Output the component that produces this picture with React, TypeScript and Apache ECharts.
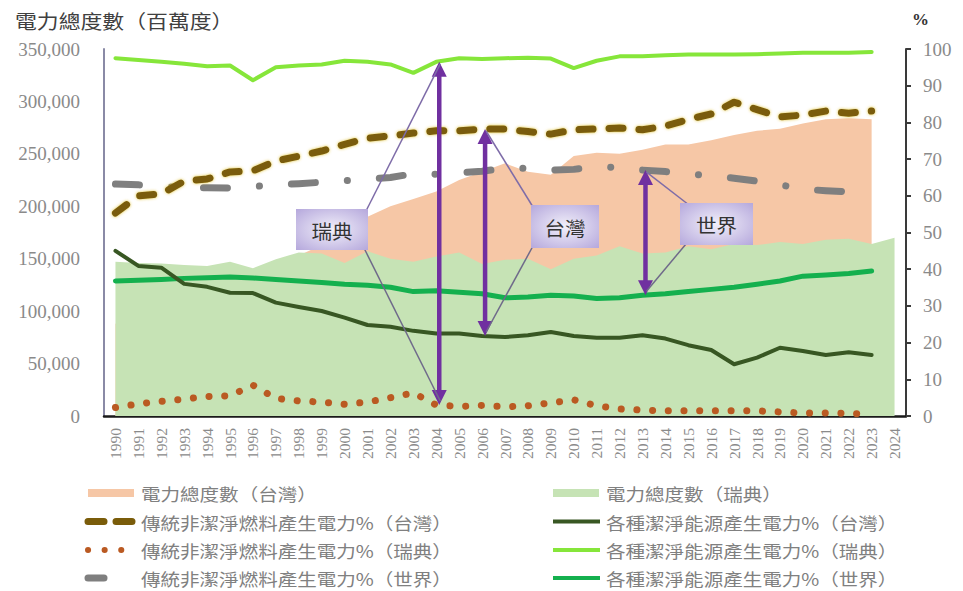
import React, { useEffect, useRef } from 'react';
import * as echarts from 'echarts';

// Years on the category axis
const years = [
  '1990', '1991', '1992', '1993', '1994', '1995', '1996', '1997', '1998', '1999',
  '2000', '2001', '2002', '2003', '2004', '2005', '2006', '2007', '2008', '2009',
  '2010', '2011', '2012', '2013', '2014', '2015', '2016', '2017', '2018', '2019',
  '2020', '2021', '2022', '2023', '2024',
];

// Total electricity (百萬度), left axis
const twTotal = [
  88000, 95000, 101000, 110000, 118000, 125000, 133000, 144000, 153000, 163000,
  178000, 190000, 200000, 207000, 214000, 225000, 233000, 241000, 233000, 230000,
  248000, 251000, 250000, 254000, 259000, 259000, 263000, 268000, 272000, 274000,
  279000, 283000, 284000, 283000,
];
const seTotal = [
  147000, 146000, 145500, 144000, 143000, 147000, 141000, 149500, 156000, 155000,
  146000, 157000, 150000, 147000, 152000, 156000, 145000, 149000, 150000, 140000,
  150000, 153000, 162000, 155000, 156000, 162000, 159000, 164000, 163000, 166000,
  164000, 168000, 169000, 164000, 170000,
];

// Share of generation (%), right axis
const twFossil = [
  55.3, 60.0, 60.5, 64.0, 64.6, 66.5, 66.8, 69.5, 70.8, 72.2,
  74.0, 75.7, 76.3, 77.1, 77.7, 77.7, 78.2, 78.2, 77.5, 76.8,
  78.0, 78.2, 78.5, 78.0, 79.0, 80.8, 82.3, 85.5, 83.5, 81.5,
  82.0, 83.1, 82.5, 83.1,
];
const twClean = [
  45.0, 40.9, 40.4, 36.0, 35.2, 33.6, 33.5, 30.9, 29.7, 28.6,
  26.8, 24.8, 24.3, 23.2, 22.5, 22.5, 21.8, 21.5, 22.0, 22.9,
  21.8, 21.3, 21.3, 22.0, 21.1, 19.3, 18.0, 14.1, 15.9, 18.6,
  17.7, 16.6, 17.4, 16.6,
];
const seFossil = [
  2.3, 3.3, 4.0, 4.6, 5.3, 5.5, 8.4, 4.8, 4.1, 3.8,
  3.2, 3.8, 5.0, 6.3, 3.0, 2.6, 2.9, 2.5, 2.8, 3.6,
  4.4, 2.8, 1.9, 1.6, 1.4, 1.4, 1.4, 1.4, 1.4, 1.1,
  0.8, 0.8, 0.7, 0.5,
];
const seClean = [
  97.5, 97.0, 96.5, 96.0, 95.3, 95.5, 91.5, 95.0, 95.5, 95.8,
  96.8, 96.5, 95.8, 93.5, 96.5, 97.5, 97.3, 97.5, 97.6, 97.4,
  94.8, 96.8, 98.0, 98.0, 98.3, 98.5, 98.5, 98.5, 98.6, 98.8,
  99.0, 99.0, 99.0, 99.2,
];
const worldFossil = [
  63.2, 63.0, 62.5, 62.2, 62.2, 62.1, 62.5, 63.0, 63.3, 63.7,
  64.1, 64.5, 65.0, 66.0, 65.9, 66.3, 66.7, 67.5, 67.5, 67.0,
  67.2, 67.9, 67.7, 67.0, 66.6, 66.0, 65.4, 64.8, 64.0, 63.0,
  61.8, 61.4, 61.1, 60.4,
];
const worldClean = [
  36.8, 37.0, 37.2, 37.5, 37.7, 37.9, 37.6, 37.2, 36.8, 36.4,
  35.9, 35.6, 35.1, 33.9, 34.1, 33.7, 33.3, 32.2, 32.4, 32.9,
  32.7, 32.0, 32.2, 32.9, 33.3, 33.9, 34.5, 35.1, 35.9, 36.8,
  38.1, 38.4, 38.8, 39.5,
];

// Years marked with a double arrow between fossil and clean shares
const arrowYears = ['2004', '2006', '2013'];
const calloutLabels = ['瑞典', '台灣', '世界'];

const SERIF = '"Liberation Serif", "DejaVu Serif", "Times New Roman", serif';
const CJK = '"Noto Sans CJK TC", "Noto Sans CJK SC", sans-serif';

const C_TW_AREA = '#F6C7A6';
const C_SE_AREA = '#C6E3B5';
const C_TW_FOSSIL = '#7A5C0A';
const C_TW_CLEAN = '#385723';
const C_SE_FOSSIL = '#BA5A22';
const C_SE_CLEAN = '#86E63A';
const C_W_FOSSIL = '#7F7F7F';
const C_W_CLEAN = '#14B04E';
const PURPLE = '#7030A0';

const DASH_TW: number[] = [14, 16];
const DOT_SE: number[] = [0.1, 15.6];
const DASHDOT_W: number[] = [24, 32, 0.1, 32];

// horizontal stretch applied to the CJK captions
const WIDE = 1.15;

function lineSeries(name: string, data: number[], color: string, width: number, type: any, z: number, extra: any = {}) {
  return {
    name,
    type: 'line',
    yAxisIndex: 1,
    data,
    symbol: 'none',
    z,
    lineStyle: { color, width, type, cap: 'round', join: 'round', ...extra },
    itemStyle: { color },
  };
}

export default function App() {
  const ref = useRef<HTMLDivElement>(null);

  useEffect(() => {
    document.body.style.margin = '0';
    const chart = echarts.init(ref.current as HTMLDivElement, null, { renderer: 'svg' });

    const option: any = {
      animation: false,
      grid: { left: 104, right: 57, top: 49, bottom: 175, containLabel: false },
      xAxis: {
        type: 'category',
        data: years,
        boundaryGap: true,
        axisLine: { lineStyle: { color: '#1a1a1a', width: 2.5 } },
        axisTick: { show: false },
        axisLabel: {
          rotate: 90,
          interval: 0,
          margin: 12,
          fontFamily: SERIF,
          fontSize: 15.5,
          color: '#8a8a8a',
        },
      },
      yAxis: [
        {
          type: 'value',
          min: 0,
          max: 350000,
          interval: 50000,
          axisLine: { show: true, lineStyle: { color: '#8a8aa6', width: 2 } },
          axisTick: { show: false },
          splitLine: { show: false },
          axisLabel: {
            formatter: (v: number) => v.toLocaleString('en-US'),
            fontFamily: SERIF,
            fontSize: 19,
            color: '#8a8a8a',
            margin: 24,
          },
        },
        {
          type: 'value',
          min: 0,
          max: 100,
          interval: 10,
          position: 'right',
          axisLine: { show: true, lineStyle: { color: '#3a3a3a', width: 2 } },
          axisTick: { show: true, length: 5, lineStyle: { color: '#3a3a3a', width: 2 } },
          splitLine: { show: false },
          axisLabel: { fontFamily: SERIF, fontSize: 19, color: '#8a8a8a', margin: 17 },
        },
      ],
      series: [
        {
          name: '電力總度數（台灣）',
          type: 'line',
          data: twTotal,
          symbol: 'none',
          z: 1,
          lineStyle: { width: 0 },
          areaStyle: { color: C_TW_AREA, opacity: 1 },
        },
        {
          name: '電力總度數（瑞典）',
          type: 'line',
          data: seTotal,
          symbol: 'none',
          z: 1,
          lineStyle: { width: 0 },
          areaStyle: { color: C_SE_AREA, opacity: 1 },
        },
        lineSeries('各種潔淨能源產生電力%（世界）', worldClean, C_W_CLEAN, 5, 'solid', 3),
        lineSeries('各種潔淨能源產生電力%（台灣）', twClean, C_TW_CLEAN, 4, 'solid', 4),
        lineSeries('各種潔淨能源產生電力%（瑞典）', seClean, C_SE_CLEAN, 4, 'solid', 4),
        lineSeries('傳統非潔淨燃料產生電力%（世界）', worldFossil, C_W_FOSSIL, 7, DASHDOT_W, 5),
        lineSeries('傳統非潔淨燃料產生電力%（瑞典）', seFossil, C_SE_FOSSIL, 7, DOT_SE, 6),
        lineSeries('傳統非潔淨燃料產生電力%（台灣）', twFossil, C_TW_FOSSIL, 7, DASH_TW, 7, {
          shadowColor: 'rgba(222, 190, 40, 0.9)',
          shadowBlur: 3,
        }),
      ],
    };
    chart.setOption(option);

    // [lower share, upper share, series index used for the percentage axis]
    const pairs: [number[], number[], number][] = [
      [seFossil, seClean, 6],
      [twClean, twFossil, 7],
      [worldClean, worldFossil, 5],
    ];
    const toPx = (si: number, idx: number, v: number) =>
      chart.convertToPixel({ seriesIndex: si }, [idx, v]) as number[];

    const g: any[] = [];
    const tips: { x: number; top: number; bot: number }[] = [];
    arrowYears.forEach((yr, i) => {
      const idx = years.indexOf(yr);
      const [low, high, si] = pairs[i];
      const pTop = toPx(si, idx, high[idx]);
      const pBot = toPx(si, idx, low[idx]);
      const x = pTop[0] + 3;
      const yTop = pTop[1];
      const yBot = pBot[1];
      tips.push({ x, top: yTop, bot: yBot });
      const head = 15;
      const half = 7.5;
      g.push(
        {
          type: 'line',
          z: 100,
          shape: { x1: x, y1: yTop + head - 2, x2: x, y2: yBot - head + 2 },
          style: { stroke: PURPLE, lineWidth: 4.5 },
        },
        {
          type: 'polygon',
          z: 100,
          shape: { points: [[x, yTop], [x - half, yTop + head], [x + half, yTop + head]] },
          style: { fill: PURPLE },
        },
        {
          type: 'polygon',
          z: 100,
          shape: { points: [[x, yBot], [x - half, yBot - head], [x + half, yBot - head]] },
          style: { fill: PURPLE },
        },
      );
    });

    // Callout boxes with leader lines to both arrow tips
    const boxes = [
      { x: 296, y: 209, w: 72, h: 41, topAnchor: [366, 211], botAnchor: [364, 248] },
      { x: 531, y: 205, w: 68, h: 43, topAnchor: [533, 207], botAnchor: [533, 246] },
      { x: 680, y: 203, w: 73, h: 42, topAnchor: [689, 205], botAnchor: [686, 244] },
    ];
    boxes.forEach((b, i) => {
      const t = tips[i];
      g.push(
        {
          type: 'line',
          z: 101,
          shape: { x1: b.topAnchor[0], y1: b.topAnchor[1], x2: t.x + 1, y2: t.top + 2 },
          style: { stroke: '#7E6CA8', lineWidth: 1.5 },
        },
        {
          type: 'line',
          z: 101,
          shape: { x1: b.botAnchor[0], y1: b.botAnchor[1], x2: t.x + 1, y2: t.bot - 4 },
          style: { stroke: '#6F6A8A', lineWidth: 1.5 },
        },
        {
          type: 'rect',
          z: 102,
          shape: { x: b.x, y: b.y, width: b.w, height: b.h },
          style: {
            fill: new echarts.graphic.RadialGradient(0.5, 0.5, 0.75, [
              { offset: 0, color: '#F2F0FA' },
              { offset: 1, color: '#B1A3DA' },
            ]),
          },
        },
        {
          type: 'text',
          z: 103,
          x: b.x + b.w / 2,
          y: b.y + b.h / 2 + 1,
          scaleX: 1.08,
          style: {
            text: calloutLabels[i],
            fill: '#333333',
            font: `19px ${CJK}`,
            align: 'center',
            verticalAlign: 'middle',
          },
        },
      );
    });

    // Axis titles
    g.push(
      {
        type: 'text',
        z: 100,
        x: 15,
        y: 21,
        scaleX: WIDE,
        style: { text: '電力總度數（百萬度）', fill: '#404040', font: `19px ${CJK}`, verticalAlign: 'middle' },
      },
      {
        type: 'text',
        z: 100,
        x: 912,
        y: 19,
        style: { text: '%', fill: '#333333', font: `bold 17px ${SERIF}`, verticalAlign: 'middle' },
      },
    );

    // Legend, two columns
    const rows = [493, 521.5, 550, 578];
    const legendItems = [
      { col: 0, row: 0, name: '電力總度數（台灣）', kind: 'rect', color: C_TW_AREA },
      { col: 1, row: 0, name: '電力總度數（瑞典）', kind: 'rect', color: C_SE_AREA },
      { col: 0, row: 1, name: '傳統非潔淨燃料產生電力%（台灣）', kind: 'line', color: C_TW_FOSSIL, width: 7, dash: [16, 12], len: 44 },
      { col: 1, row: 1, name: '各種潔淨能源產生電力%（台灣）', kind: 'line', color: C_TW_CLEAN, width: 4, dash: null },
      { col: 0, row: 2, name: '傳統非潔淨燃料產生電力%（瑞典）', kind: 'line', color: C_SE_FOSSIL, width: 6, dash: [0.1, 16.5], len: 34 },
      { col: 1, row: 2, name: '各種潔淨能源產生電力%（瑞典）', kind: 'line', color: C_SE_CLEAN, width: 4, dash: null },
      { col: 0, row: 3, name: '傳統非潔淨燃料產生電力%（世界）', kind: 'line', color: C_W_FOSSIL, width: 7, dash: null, len: 16 },
      { col: 1, row: 3, name: '各種潔淨能源產生電力%（世界）', kind: 'line', color: C_W_CLEAN, width: 4, dash: null },
    ];
    legendItems.forEach((it: any) => {
      const x0 = it.col === 0 ? 88 : 553;
      const y = rows[it.row];
      if (it.kind === 'rect') {
        g.push({
          type: 'rect',
          z: 100,
          shape: { x: x0, y: y - 4, width: 46, height: 8 },
          style: { fill: it.color },
        });
      } else {
        const len = it.len !== undefined ? it.len : 47;
        g.push({
          type: 'line',
          z: 100,
          shape: { x1: x0, y1: y, x2: x0 + len, y2: y },
          style: {
            stroke: it.color,
            lineWidth: it.width,
            lineDash: it.dash || undefined,
            lineCap: it.col === 0 ? 'round' : 'butt',
          },
        });
      }
      g.push({
        type: 'text',
        z: 100,
        x: it.col === 0 ? 141 : 606,
        y: y + 1,
        scaleX: WIDE,
        style: { text: it.name, fill: '#808080', font: `17px ${CJK}`, verticalAlign: 'middle' },
      });
    });

    chart.setOption({ graphic: g });

    return () => chart.dispose();
  }, []);

  return <div ref={ref} style={{ width: 963, height: 591 }} />;
}
